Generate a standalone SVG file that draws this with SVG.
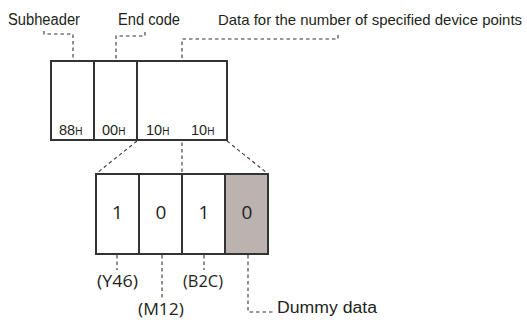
<svg xmlns="http://www.w3.org/2000/svg" width="527" height="320" viewBox="0 0 527 320">
<style>
.lbl{font-family:"Liberation Sans",Arial,sans-serif;font-size:16px;fill:#231f20}
.hx{font-family:"Liberation Sans",Arial,sans-serif;font-size:14.5px;fill:#231f20}
.sub{font-size:10px}
.big{font-family:"Open Sans","Noto Sans",sans-serif;font-size:19px;fill:#231f20;text-anchor:middle}
.sm{font-family:"Open Sans","Noto Sans",sans-serif;font-size:17px;fill:#231f20}
.box{fill:#fff;stroke:#333;stroke-width:2}
.dash{fill:none;stroke:#333;stroke-width:1.1;stroke-dasharray:3.5 3}
</style>
<rect width="527" height="320" fill="#fff"/>
<g id="connectors">
<path class="dash" d="M44 31 V34 H73 V61"/>
<path class="dash" d="M145 32 V36 H116 V61"/>
<path class="dash" d="M338 35 V39 H182 V61"/>
<path class="dash" d="M182 136 V174"/>
<path class="dash" d="M137 141 L97 173"/>
<path class="dash" d="M227 141 L267 173"/>
<path class="dash" d="M117 255 V270"/>
<path class="dash" d="M162 255 V300"/>
<path class="dash" d="M204 255 V270"/>
<path class="dash" d="M248 255 V312 H273"/>
</g>
<g id="labels">
<text class="lbl" x="8" y="25" textLength="72" lengthAdjust="spacingAndGlyphs">Subheader</text>
<text class="lbl" x="118" y="25" textLength="62" lengthAdjust="spacingAndGlyphs">End code</text>
<text class="lbl" x="218" y="25" textLength="304" lengthAdjust="spacingAndGlyphs" style="font-size:15px">Data for the number of specified device points</text>
</g>
<g id="frame">
<rect class="box" x="51" y="61" width="176" height="79"/>
<line x1="94" y1="61" x2="94" y2="140" stroke="#333" stroke-width="2"/>
<line x1="137" y1="61" x2="137" y2="140" stroke="#333" stroke-width="2"/>
<text class="hx" x="59" y="135">88<tspan class="sub">H</tspan></text>
<text class="hx" x="102" y="135">00<tspan class="sub">H</tspan></text>
<text class="hx" x="146" y="135">10<tspan class="sub">H</tspan></text>
<text class="hx" x="191" y="135">10<tspan class="sub">H</tspan></text>
</g>
<g id="bit1"><rect class="box" x="96" y="174" width="43" height="80" stroke-width="1.6"/><text class="big" x="117.5" y="219">1</text></g>
<g id="bit2"><rect class="box" x="139" y="174" width="43" height="80" stroke-width="1.6"/><text class="big" x="161" y="219">0</text></g>
<g id="bit3"><rect class="box" x="182" y="174" width="43" height="80" stroke-width="1.6"/><text class="big" x="204" y="219">1</text></g>
<g id="bit4"><rect class="box" x="225" y="174" width="43" height="80" stroke-width="1.6" style="fill:#bab3b0"/><text class="big" x="247" y="219">0</text></g>
<g id="names">
<text class="sm" x="97" y="287" textLength="41" lengthAdjust="spacingAndGlyphs">(Y46)</text>
<text class="sm" x="138" y="315" textLength="46" lengthAdjust="spacingAndGlyphs">(M12)</text>
<text class="sm" x="183" y="287" textLength="40" lengthAdjust="spacingAndGlyphs">(B2C)</text>
<text class="lbl" x="277" y="313" textLength="100" lengthAdjust="spacingAndGlyphs">Dummy data</text>
</g>
</svg>
